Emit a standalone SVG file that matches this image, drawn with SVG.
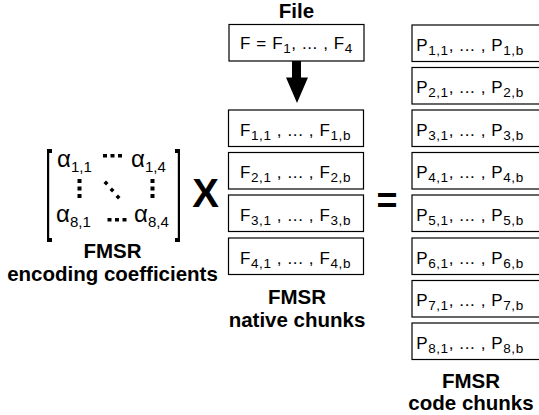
<svg xmlns="http://www.w3.org/2000/svg" width="539" height="415" viewBox="0 0 539 415">
<style>
.box{fill:#fff;stroke:#000;stroke-width:1.2}
.t{font-family:"Liberation Sans",Arial,sans-serif;font-size:17px;letter-spacing:0.6px;fill:#000;text-anchor:middle}
.s{font-size:13.5px}
.lbl{font-family:"Liberation Sans",Arial,sans-serif;font-size:20.5px;font-weight:bold;fill:#000;text-anchor:middle}
.a{font-family:"Liberation Sans",Arial,sans-serif;font-size:24px;fill:#000}
.as{font-size:15px}
.d{fill:#000}
</style>
<rect width="539" height="415" fill="#fff"/>

<g id="file">
<text class="lbl" x="296.5" y="18">File</text>
<rect class="box" x="229" y="24.5" width="135" height="36.5"/>
<text class="t" x="296.5" y="48.5">F = F<tspan class="s" dy="4">1</tspan><tspan dy="-4">, ... , F</tspan><tspan class="s" dy="4">4</tspan></text>
</g>

<g id="connectors">
<polygon points="292,61 301,61 301,77.5 308,77.5 297,103 286,77.5 292,77.5" fill="#000"/>
</g>

<g id="matrix">
<rect class="d" x="47" y="149" width="2.2" height="93"/>
<rect class="d" x="47" y="149" width="5" height="4"/>
<rect class="d" x="47" y="238" width="5" height="4"/>
<rect class="d" x="177.8" y="149" width="2.2" height="93"/>
<rect class="d" x="175" y="149" width="5" height="4"/>
<rect class="d" x="175" y="238" width="5" height="4"/>
<text class="a" x="57" y="167">α<tspan class="as" dy="5">1,1</tspan></text>
<text class="a" x="131" y="167">α<tspan class="as" dy="5">1,4</tspan></text>
<text class="a" x="56" y="222">α<tspan class="as" dy="5">8,1</tspan></text>
<text class="a" x="134" y="222">α<tspan class="as" dy="5">8,4</tspan></text>
<rect class="d" x="103" y="154" width="4" height="3.5"/>
<rect class="d" x="110.5" y="154" width="4" height="3.5"/>
<rect class="d" x="118" y="154" width="4" height="3.5"/>
<rect class="d" x="107.5" y="218" width="4" height="3.5"/>
<rect class="d" x="115" y="218" width="4" height="3.5"/>
<rect class="d" x="122.5" y="218" width="4" height="3.5"/>
<rect class="d" x="77.5" y="179" width="4" height="4"/>
<rect class="d" x="77.5" y="186.5" width="4" height="4"/>
<rect class="d" x="77.5" y="194" width="4" height="4"/>
<rect class="d" x="150.5" y="179" width="4" height="4"/>
<rect class="d" x="150.5" y="186.5" width="4" height="4"/>
<rect class="d" x="150.5" y="194" width="4" height="4"/>
<polygon class="d" points="106,180.5 108.5,183 106,185.5 103.5,183"/>
<polygon class="d" points="112,187.5 114.5,190 112,192.5 109.5,190"/>
<polygon class="d" points="118,194.5 120.5,197 118,199.5 115.5,197"/>
<text class="lbl" x="112.5" y="258">FMSR</text>
<text class="lbl" x="112.5" y="280.5">encoding coefficients</text>
</g>

<g id="times">
<text x="205.5" y="207" font-family="Liberation Sans,Arial,sans-serif" font-size="40" font-weight="bold" text-anchor="middle">X</text>
</g>

<g id="native">
<rect class="box" x="228.5" y="110" width="135" height="36.5"/>
<text class="t" x="295.5" y="135.5">F<tspan class="s" dy="4">1,1</tspan><tspan dy="-4"> , ... , F</tspan><tspan class="s" dy="4">1,b</tspan></text>
<rect class="box" x="228.5" y="152.5" width="135" height="36.5"/>
<text class="t" x="295.5" y="178">F<tspan class="s" dy="4">2,1</tspan><tspan dy="-4"> , ... , F</tspan><tspan class="s" dy="4">2,b</tspan></text>
<rect class="box" x="228.5" y="195" width="135" height="36.5"/>
<text class="t" x="295.5" y="220.5">F<tspan class="s" dy="4">3,1</tspan><tspan dy="-4"> , ... , F</tspan><tspan class="s" dy="4">3,b</tspan></text>
<rect class="box" x="228.5" y="238" width="135" height="36.5"/>
<text class="t" x="295.5" y="263.5">F<tspan class="s" dy="4">4,1</tspan><tspan dy="-4"> , ... , F</tspan><tspan class="s" dy="4">4,b</tspan></text>
<text class="lbl" x="297" y="304">FMSR</text>
<text class="lbl" x="297" y="326.5">native chunks</text>
</g>

<g id="equals">
<text x="387" y="213" font-family="Liberation Sans,Arial,sans-serif" font-size="36" font-weight="bold" text-anchor="middle">=</text>
</g>

<g id="code">
<rect class="box" x="412" y="25" width="130" height="36.5"/>
<text class="t" x="470" y="50.5">P<tspan class="s" dy="4">1,1</tspan><tspan dy="-4">, ... , P</tspan><tspan class="s" dy="4">1,b</tspan></text>
<rect class="box" x="412" y="67.5" width="130" height="36.5"/>
<text class="t" x="470" y="93">P<tspan class="s" dy="4">2,1</tspan><tspan dy="-4">, ... , P</tspan><tspan class="s" dy="4">2,b</tspan></text>
<rect class="box" x="412" y="110" width="130" height="36.5"/>
<text class="t" x="470" y="135.5">P<tspan class="s" dy="4">3,1</tspan><tspan dy="-4">, ... , P</tspan><tspan class="s" dy="4">3,b</tspan></text>
<rect class="box" x="412" y="152.5" width="130" height="36.5"/>
<text class="t" x="470" y="178">P<tspan class="s" dy="4">4,1</tspan><tspan dy="-4">, ... , P</tspan><tspan class="s" dy="4">4,b</tspan></text>
<rect class="box" x="412" y="195" width="130" height="36.5"/>
<text class="t" x="470" y="220.5">P<tspan class="s" dy="4">5,1</tspan><tspan dy="-4">, ... , P</tspan><tspan class="s" dy="4">5,b</tspan></text>
<rect class="box" x="412" y="238" width="130" height="36.5"/>
<text class="t" x="470" y="263.5">P<tspan class="s" dy="4">6,1</tspan><tspan dy="-4">, ... , P</tspan><tspan class="s" dy="4">6,b</tspan></text>
<rect class="box" x="412" y="280.5" width="130" height="36.5"/>
<text class="t" x="470" y="306">P<tspan class="s" dy="4">7,1</tspan><tspan dy="-4">, ... , P</tspan><tspan class="s" dy="4">7,b</tspan></text>
<rect class="box" x="412" y="323" width="130" height="36.5"/>
<text class="t" x="470" y="348.5">P<tspan class="s" dy="4">8,1</tspan><tspan dy="-4">, ... , P</tspan><tspan class="s" dy="4">8,b</tspan></text>
<text class="lbl" x="471" y="388">FMSR</text>
<text class="lbl" x="471" y="410">code chunks</text>
</g>
</svg>
